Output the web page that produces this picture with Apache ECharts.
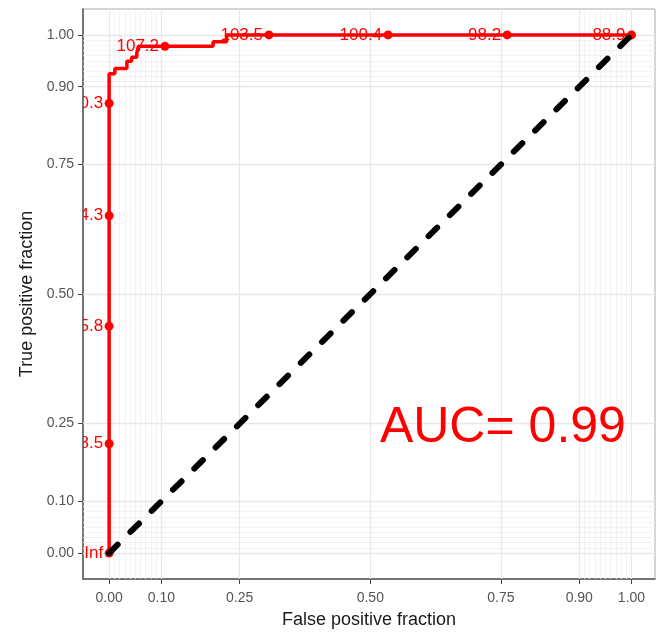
<!DOCTYPE html>
<html>
<head>
<meta charset="utf-8">
<script src="https://cdn.jsdelivr.net/npm/echarts@6/dist/echarts.min.js"></script>
<style>
  html, body { margin: 0; padding: 0; background: #ffffff; }
  #chart { width: 657px; height: 634px; }
</style>
</head>
<body>
<div id="chart"></div>
<script>
// ROC curve vertices (false positive fraction, true positive fraction)
const rocFpr = [0, 0, 0.011, 0.034, 0.043, 0.053, 0.056, 0.199, 0.225, 1];
const rocTpr = [0, 0.925, 0.935, 0.949, 0.957, 0.965, 0.978, 0.987, 1, 1];

// Labelled cutoff points along the curve
const cutFpr = [0, 0, 0, 0, 0, 0.107, 0.306, 0.534, 0.762, 1];
const cutTpr = [0, 0.211, 0.438, 0.651, 0.868, 0.978, 1, 1, 1, 1];
const cutLabels = ['Inf', '118.5', '115.8', '114.3', '110.3', '107.2', '103.5', '100.4', '98.2', '88.9'];

// Axis breaks
const majorBreaks = [0, 0.1, 0.25, 0.5, 0.75, 0.9, 1];
const minorBreaks = [0.01, 0.02, 0.03, 0.04, 0.05, 0.06, 0.07, 0.08, 0.09,
                     0.91, 0.92, 0.93, 0.94, 0.95, 0.96, 0.97, 0.98, 0.99];

const aucText = 'AUC= 0.99';
const aucPos = [0.75, 0.25];

const FONT = '"Liberation Sans", Arial, sans-serif';

const rocData = rocFpr.map((x, i) => [x, rocTpr[i]]);
const cutData = cutFpr.map((x, i) => [x, cutTpr[i]]);

function axisCommon(name) {
  return {
    type: 'value',
    min: -0.05,
    name: name,
    nameLocation: 'middle',
    nameTextStyle: { fontFamily: FONT, fontSize: 18, color: '#1a1a1a' },
    axisLine: { show: true, onZero: false, lineStyle: { color: '#555555', width: 1.5 } },
    axisTick: { show: true, length: 5, customValues: majorBreaks, lineStyle: { color: '#444444', width: 1 } },
    axisLabel: {
      customValues: majorBreaks,
      fontFamily: FONT, fontSize: 14, color: '#555555',
      formatter: v => Number(v).toFixed(2)
    },
    splitLine: { show: false },
    minorSplitLine: { show: false }
  };
}

const xAxis = Object.assign(axisCommon('False positive fraction'), { max: 1.045, nameGap: 32 });
xAxis.axisLabel.margin = 12;
const yAxis = Object.assign(axisCommon('True positive fraction'), { max: 1.05, nameGap: 42 });
yAxis.axisLabel.margin = 9;

const chart = echarts.init(document.getElementById('chart'), null, { renderer: 'canvas' });

chart.setOption({
  animation: false,
  backgroundColor: '#ffffff',
  grid: {
    left: 83, right: 2, top: 9, bottom: 51,
    show: true, borderColor: '#aaaaaa', borderWidth: 1, backgroundColor: '#ffffff'
  },
  xAxis: xAxis,
  yAxis: yAxis,
  series: [
    {
      // panel grid lines, kept beneath every other layer
      type: 'line',
      data: [],
      silent: true,
      z: 1,
      markLine: {
        z: 1,
        silent: true,
        symbol: 'none',
        label: { show: false },
        animation: false,
        data: [
          ...minorBreaks.map(v => ({ xAxis: v, lineStyle: { color: '#f0f0f0', width: 0.8, type: 'solid' } })),
          ...minorBreaks.map(v => ({ yAxis: v, lineStyle: { color: '#f0f0f0', width: 0.8, type: 'solid' } })),
          ...majorBreaks.map(v => ({ xAxis: v, lineStyle: { color: '#e8e8e8', width: 1.3, type: 'solid' } })),
          ...majorBreaks.map(v => ({ yAxis: v, lineStyle: { color: '#e8e8e8', width: 1.3, type: 'solid' } }))
        ]
      }
    },
    {
      // ROC curve
      type: 'line',
      data: rocData,
      step: 'end',
      showSymbol: false,
      z: 10,
      lineStyle: { color: '#ff0000', width: 3.5, opacity: 1 }
    },
    {
      // cutoff points
      type: 'scatter',
      data: cutData,
      symbol: 'circle',
      symbolSize: 9,
      z: 11,
      itemStyle: { color: '#ff0000', opacity: 1 }
    },
    {
      // cutoff labels, clipped to the panel
      type: 'custom',
      data: cutData,
      clip: true,
      z: 11,
      renderItem: function (params, api) {
        const p = api.coord([api.value(0), api.value(1)]);
        return {
          type: 'text',
          x: p[0] - 6,
          y: p[1],
          style: {
            text: cutLabels[params.dataIndex],
            fill: '#ff0000',
            fontFamily: FONT,
            fontSize: 17,
            align: 'right',
            verticalAlign: 'middle'
          }
        };
      }
    },
    {
      // chance line
      type: 'line',
      data: [[0, 0], [1, 1]],
      showSymbol: false,
      z: 12,
      lineStyle: { color: '#000000', width: 6, type: [12, 18], cap: 'round' }
    },
    {
      // AUC annotation
      type: 'scatter',
      data: [aucPos],
      symbolSize: 0,
      z: 13,
      itemStyle: { opacity: 1 },
      label: {
        show: true,
        position: 'inside',
        offset: [2, 5],
        formatter: aucText,
        fontFamily: FONT,
        fontSize: 50,
        color: '#ff0000',
        opacity: 1
      }
    }
  ]
});
</script>
</body>
</html>
